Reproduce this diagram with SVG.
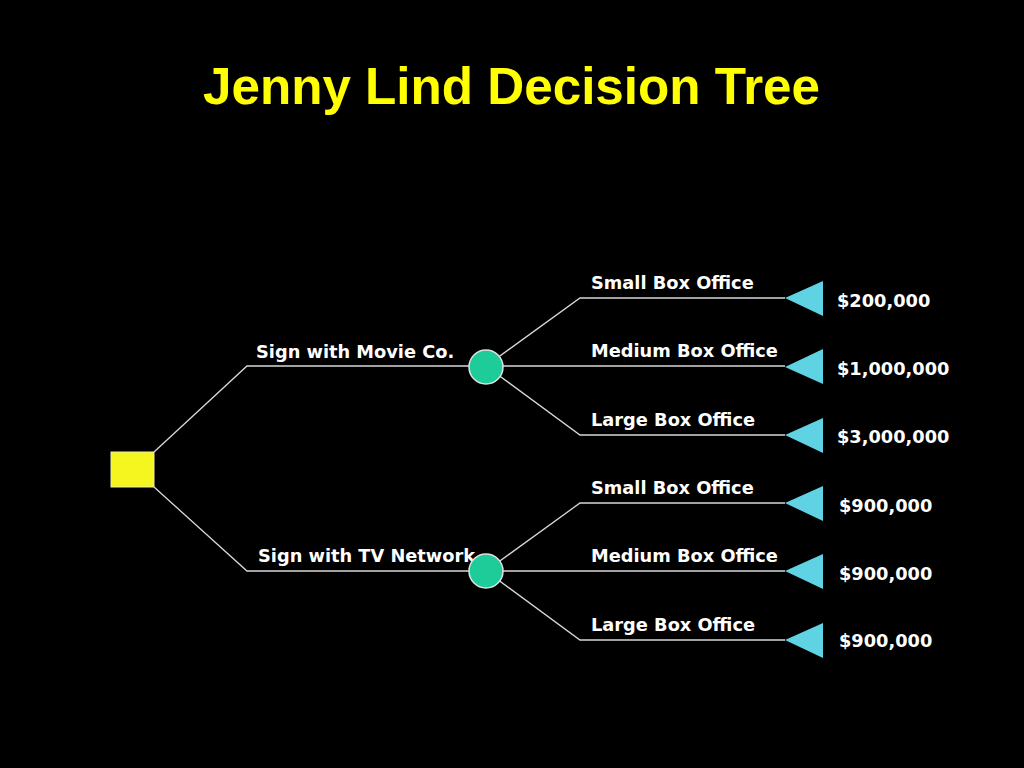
<svg xmlns="http://www.w3.org/2000/svg" width="1024" height="768" viewBox="0 0 1024 768">
<style>
.title{font-family:"Liberation Sans",Arial,sans-serif;font-weight:bold;font-size:52px;fill:#FFFF00}
.lbl{font-family:"DejaVu Sans",Verdana,sans-serif;font-weight:bold;font-size:17.8px;fill:#FFFFFF}
.edge{fill:none;stroke:#D8D8D8;stroke-width:1.3}
.dec{fill:#F5F520;stroke:#EEEEAA;stroke-width:1}
.chance{fill:#1ECC9A;stroke:#E0E0E0;stroke-width:1.5}
.end{fill:#5FD3E3}
</style>
<rect x="0" y="0" width="1024" height="768" fill="#000000"/>
<text class="title" x="203" y="104" textLength="617" lengthAdjust="spacingAndGlyphs">Jenny Lind Decision Tree</text>
<g id="connectors">
<polyline class="edge" points="154,452 247,366 785,366"/>
<polyline class="edge" points="154,487 247,571 785,571"/>
<polyline class="edge" points="486,366 580,298 785,298"/>
<polyline class="edge" points="486,366 580,435 785,435"/>
<polyline class="edge" points="486,571 580,503 785,503"/>
<polyline class="edge" points="486,571 580,640 785,640"/>
<text class="lbl" x="256" y="358">Sign with Movie Co.</text>
<text class="lbl" x="258" y="562">Sign with TV Network</text>
<text class="lbl" x="591" y="289">Small Box Office</text>
<text class="lbl" x="591" y="357">Medium Box Office</text>
<text class="lbl" x="591" y="426">Large Box Office</text>
<text class="lbl" x="591" y="494">Small Box Office</text>
<text class="lbl" x="591" y="562">Medium Box Office</text>
<text class="lbl" x="591" y="631">Large Box Office</text>
</g>
<g id="decision"><rect class="dec" x="111" y="452" width="43" height="35"/></g>
<g id="chance-movie"><circle class="chance" cx="486" cy="367" r="17"/></g>
<g id="chance-tv"><circle class="chance" cx="486" cy="571" r="17"/></g>
<g id="end-1"><polygon class="end" points="785,298 823,281 823,316"/><text class="lbl" x="837" y="307">$200,000</text></g>
<g id="end-2"><polygon class="end" points="785,367 823,349 823,384"/><text class="lbl" x="837" y="375">$1,000,000</text></g>
<g id="end-3"><polygon class="end" points="785,435 823,418 823,453"/><text class="lbl" x="837" y="443">$3,000,000</text></g>
<g id="end-4"><polygon class="end" points="785,503 823,486 823,521"/><text class="lbl" x="839" y="512">$900,000</text></g>
<g id="end-5"><polygon class="end" points="785,571 823,554 823,589"/><text class="lbl" x="839" y="580">$900,000</text></g>
<g id="end-6"><polygon class="end" points="785,640 823,623 823,658"/><text class="lbl" x="839" y="647">$900,000</text></g>
</svg>
